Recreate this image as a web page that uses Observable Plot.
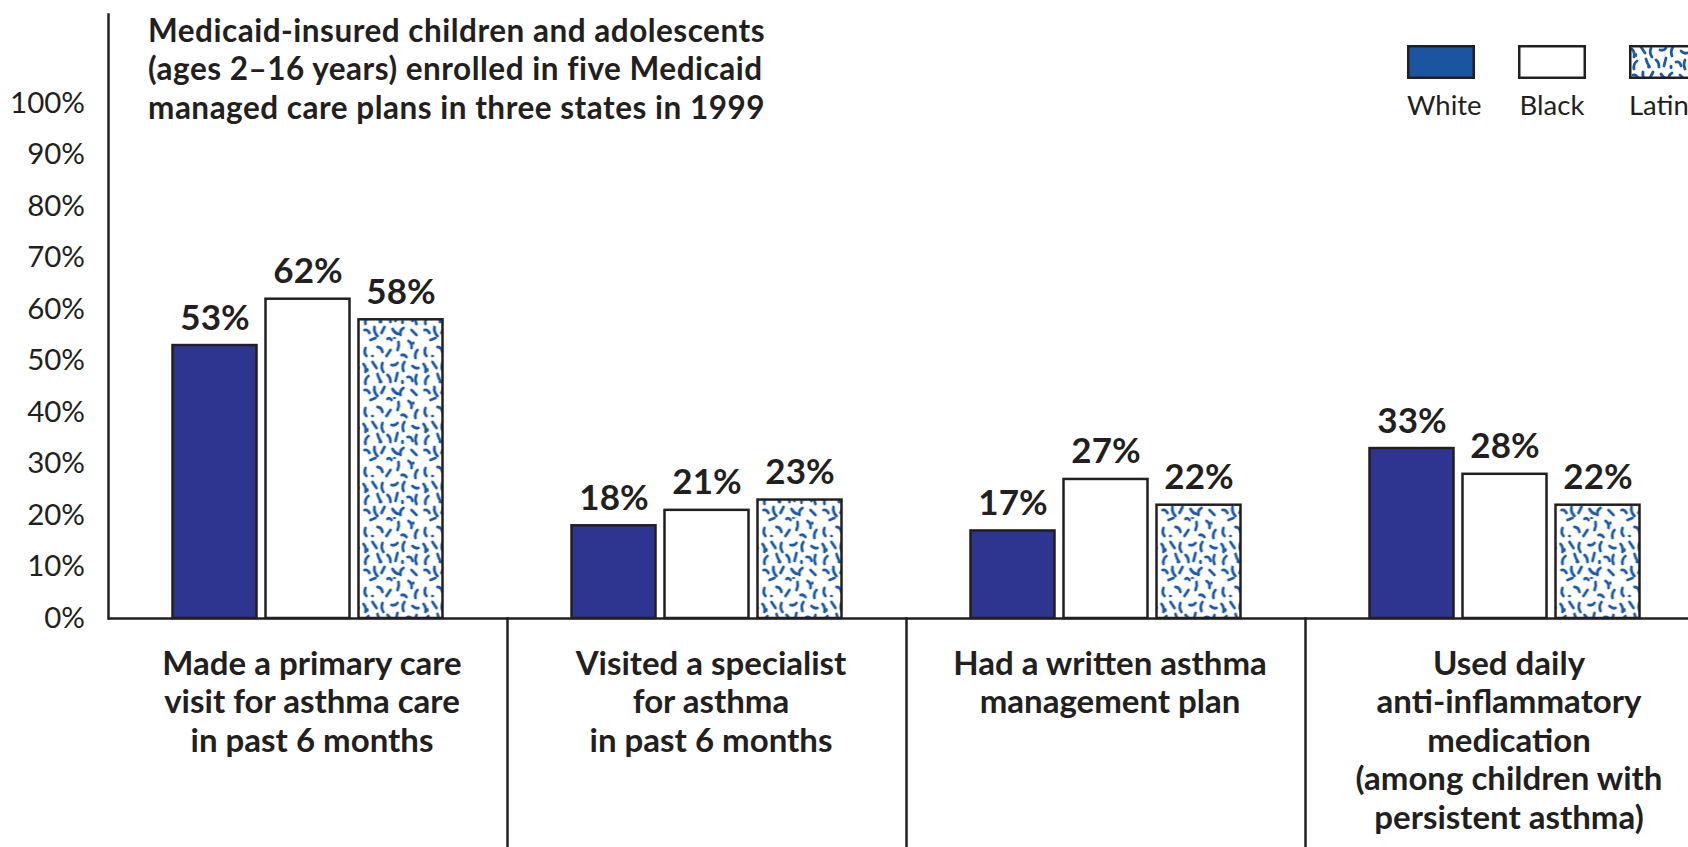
<!DOCTYPE html>
<html>
<head>
<meta charset="utf-8">
<script src="https://cdn.jsdelivr.net/npm/d3@7"></script>
<script src="https://cdn.jsdelivr.net/npm/@observablehq/plot@0.6"></script>
<style>
  html, body { margin: 0; padding: 0; overflow: hidden; background: #fff; }
  #wrap { position: relative; width: 1688px; height: 847px; font-family: Lato, "Open Sans", sans-serif; color: #231f20; }
  #title { position: absolute; left: 148px; top: 11px; font-size: 31.5px; font-weight: 700; line-height: 38.3px; letter-spacing: 0.5px; white-space: nowrap; }
  .leg { position: absolute; top: 45px; width: 68px; text-align: center; }
  .leg svg { display: block; }
  .leg span { display: block; width: 68px; margin-top: 9px; font-size: 27.5px; text-align: center; white-space: nowrap; }
</style>
</head>
<body>
<div id="wrap">
  <div id="chart"></div>
  <div id="title"></div>
  <div id="legend"></div>
</div>
<script>
// ---- data ----
const titleLines = [
  "Medicaid-insured children and adolescents",
  "(ages 2–16 years) enrolled in five Medicaid",
  "managed care plans in three states in 1999"
];
const categories = [
  "Made a primary care\nvisit for asthma care\nin past 6 months",
  "Visited a specialist\nfor asthma\nin past 6 months",
  "Had a written asthma\nmanagement plan",
  "Used daily\nanti-inflammatory\nmedication\n(among children with\npersistent asthma)"
];
const races = ["White", "Black", "Latino"];
const whiteValues = [53, 18, 17, 33];
const blackValues = [62, 21, 27, 28];
const latinoValues = [58, 23, 22, 22];
const yTicks = [0, 10, 20, 30, 40, 50, 60, 70, 80, 90, 100];

// ---- styles ----
const barFills = ["#2e3590", "#ffffff", "url(#latino-pat)"];
const legendFills = ["#1b55a0", "#ffffff", "url(#latino-pat)"];
const ink = "#231f20";

const seriesByRace = [whiteValues, blackValues, latinoValues];
const rows = categories.flatMap((c, i) =>
  races.map((r, j) => ({category: c, race: r, value: seriesByRace[j][i]}))
);

const chart = Plot.plot({
  width: 1688,
  height: 847,
  marginLeft: 107.5,
  marginRight: 0,
  marginTop: 14,
  marginBottom: 229,
  style: {fontFamily: "Lato, 'Open Sans', sans-serif", fontSize: "29.5px", color: ink, background: "white"},
  fx: {domain: categories, range: [107.5, 1705], padding: 0, axis: null},
  x: {domain: races, paddingInner: 0.1, paddingOuter: 0.69, axis: null},
  y: {domain: [0, 100], range: [618, 103], axis: null},
  color: {domain: races, range: barFills},
  marks: [
    Plot.axisY({ticks: yTicks, tickFormat: d => d + "%", tickSize: 0, tickPadding: 23.5, fontSize: 29.5, fill: ink, fx: categories[0], label: null}),
    Plot.barY(rows, {fx: "category", x: "race", y: "value", fill: "race", stroke: ink, strokeWidth: 2.5}),
    Plot.text(rows, {fx: "category", x: "race", y: "value", text: d => d.value + "%", dy: -16, lineAnchor: "bottom", fontSize: 35, fontWeight: 700, fill: ink}),
    Plot.ruleY([0], {stroke: ink, strokeWidth: 2.5}),
    Plot.frame({anchor: "left", fx: categories[0], stroke: ink, strokeWidth: 2.5}),
    ...categories.slice(1).map(c => Plot.frame({anchor: "left", fx: c, insetTop: 604, insetBottom: -240, stroke: ink, strokeWidth: 2.5})),
    Plot.text(categories, {fx: d => d, text: d => d, frameAnchor: "bottom", lineAnchor: "top", dx: 4, dy: 29, fontSize: 33, fontWeight: 700, lineHeight: 1.167, fill: ink})
  ]
});

// pattern definition for the Latino fill
const ns = "http://www.w3.org/2000/svg";
const defs = document.createElementNS(ns, "defs");
defs.innerHTML = `
<pattern id="latino-pat" width="60" height="60" patternUnits="userSpaceOnUse">
  <rect width="60" height="60" fill="#fff"/>
  <g stroke="#1a5aa8" stroke-width="2.8" fill="none" stroke-linecap="round">
    <path d="M3 4 q3 3 2 8"/>
    <path d="M12 2 l4 6"/>
    <path d="M22 3 q-2 5 1 9"/>
    <path d="M31 5 q4 1 6 -2"/>
    <path d="M44 2 q-3 4 -1 9"/>
    <path d="M52 6 q3 3 6 2"/>
    <path d="M8 16 q-4 3 -3 8"/>
    <path d="M17 14 q1 4 3 7"/>
    <path d="M27 15 q3 2 3 7"/>
    <path d="M37 13 l-2 8"/>
    <path d="M47 17 q4 -1 5 4"/>
    <path d="M56 15 q-2 5 0 9"/>
    <path d="M4 30 q3 -1 5 3"/>
    <path d="M14 27 q-1 5 3 9"/>
    <path d="M24 27 l-3 6"/>
    <path d="M32 29 q2 4 6 5"/>
    <path d="M43 28 q-4 2 -3 7"/>
    <path d="M51 30 l5 5"/>
    <path d="M10 40 l5 -2"/>
    <path d="M27 39 q2 -2 4 1"/>
    <path d="M38 42 q1 4 -1 8"/>
    <path d="M48 41 q4 2 3 7"/>
    <path d="M5 48 q-2 5 1 8"/>
    <path d="M17 47 q4 0 5 5"/>
    <path d="M30 50 l-4 6"/>
    <path d="M57 50 q-3 3 -2 8"/>
    <path d="M41 55 q3 -1 5 2"/>
  </g>
  <g fill="#1a5aa8">
    <ellipse cx="20" cy="22" rx="2" ry="1.4"/>
    <ellipse cx="42" cy="22" rx="1.5" ry="2.2"/>
    <ellipse cx="7" cy="10" rx="1.3" ry="2"/>
    <ellipse cx="34" cy="38" rx="1.8" ry="1.1"/>
    <ellipse cx="12" cy="56" rx="1.6" ry="1.2"/>
    <ellipse cx="53" cy="43" rx="1.2" ry="1.8"/>
  </g>
</pattern>`;
const svgEl = chart.tagName.toLowerCase() === "svg" ? chart : chart.querySelector("svg");
svgEl.insertBefore(defs, svgEl.firstChild);
document.getElementById("chart").appendChild(chart);

// title
document.getElementById("title").innerHTML = titleLines.join("<br>");

// legend
const legend = document.getElementById("legend");
races.forEach((r, i) => {
  const item = document.createElement("div");
  item.className = "leg";
  item.style.left = (1407 + 111 * i) + "px";
  item.innerHTML = `<svg width="68" height="34"><rect x="1.25" y="1.25" width="65.5" height="31.5" fill="${legendFills[i]}" stroke="${ink}" stroke-width="2.5"/></svg><span>${r}</span>`;
  legend.appendChild(item);
});
</script>
</body>
</html>
